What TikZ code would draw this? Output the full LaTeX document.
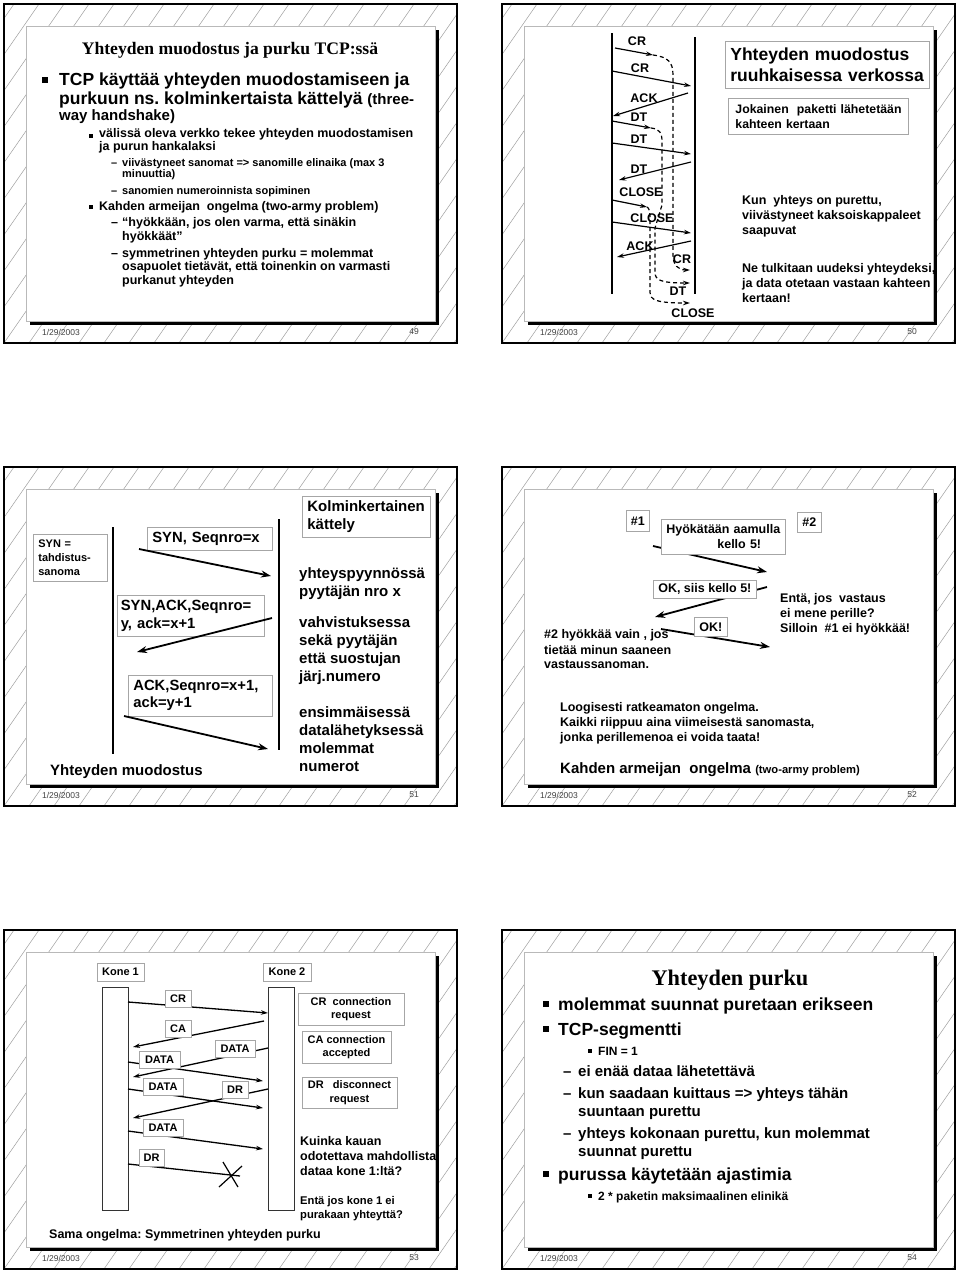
\documentclass[tikz,border=0pt]{standalone}
\usepackage{fontspec}
\setmainfont{Liberation Sans}
\newfontfamily\titlefont{Liberation Serif}
\usetikzlibrary{arrows.meta,positioning}

\newcommand\fsz[1]{\fontsize{#1}{#1}\selectfont}
\newcommand\fsl[2]{\fontsize{#1}{#2}\selectfont}

\tikzset{
  hatch/.style={draw=gray!75, line width=0.5pt},
  frame/.style={draw=black, line width=1.5pt},
  panel/.style={fill=white, draw=gray!55, line width=0.6pt},
  footer/.style={font=\fsz{8.5}, text=black!75, inner sep=0},
  ln/.style={anchor=base west, inner sep=0, font=\bfseries\fsz{12.5}},
  hugeln/.style={ln, font=\bfseries\fsz{17.5}},
  midln/.style={ln, font=\bfseries\fsz{15}},
  smallln/.style={ln, font=\bfseries\fsz{11}},
  titletext/.style={anchor=base, inner sep=0, font=\titlefont\bfseries\fsz{17.6}},
  lab/.style={inner sep=0, font=\bfseries\fsz{12.5}},
  box/.style={draw=gray!70, line width=0.7pt, inner sep=0, font=\bfseries\fsz{12.5}},
  wbox/.style={box, fill=white},
  life/.style={line width=1.3pt},
  bar/.style={draw=black!80, line width=0.8pt},
  msg/.style={line width=1.2pt, -{Stealth[length=7pt,width=4.5pt]}},
  dup/.style={msg, dash pattern=on 4pt off 3pt},
  bigmsg/.style={line width=1.8pt, -{Stealth[length=10pt,width=7pt]}}
}

% frame, hatching, shadowed panel and footer of one slide
\newcommand\slideback[3]{%
  \begin{scope}[shift={(#1,#2)}]
    \begin{scope}
      \clip (0,0) rectangle (453,339);
      \foreach \k in {-10,...,19}
        \draw[hatch] (\k*25,339) -- ++(235,-339);
    \end{scope}
    \draw[frame] (0,0) rectangle (453,339);
    \fill[black] (25.5,25.5) rectangle (434.5,320.5);
    \filldraw[panel] (22,22) rectangle (431,317);
    \node[footer] (date#3) at (57,328) {1/29/2003};
    \node[footer] (page#3) at (410,328) {#3};
  \end{scope}}

\begin{document}
\frenchspacing
\begin{tikzpicture}[x=1pt,y=-1pt]
\useasboundingbox (0,0) rectangle (960,1272);
\fill[white] (0,0) rectangle (960,1272);

%% slide 49
\slideback{4}{4}{49}
\node[titletext] (title49) at (230,54) {Yhteyden muodostus ja purku TCP:ssä};
\fill (42,77) rectangle ++(6,6);
\node[hugeln] (tcp49a) at (59,85) {TCP käyttää yhteyden muodostamiseen ja};
\node[hugeln] (tcp49b) at (59,104) {purkuun ns. kolminkertaista kättelyä {\fsz{15}(three-}};
\node[ln, font=\bfseries\fsz{15}] (tcp49c) at (59,120.5) {way handshake)};
\fill (89,133.5) rectangle ++(4,4);
\node[ln] (net49a) at (99,137.5) {välissä oleva verkko tekee yhteyden muodostamisen};
\node[ln] (net49b) at (99,150.7) {ja purun hankalaksi};
\node[smallln] (dash49a) at (111,166.7) {–};
\node[smallln] (old49a) at (122,166.7) {viivästyneet sanomat => sanomille elinaika (max 3};
\node[smallln] (old49b) at (122,177.3) {minuuttia)};
\node[smallln] (dash49b) at (111,194) {–};
\node[smallln] (num49) at (122,194) {sanomien numeroinnista sopiminen};
\fill (89,204.5) rectangle ++(4,4);
\node[ln] (army49) at (99,210.7) {Kahden armeijan\ \ ongelma (two-army problem)};
\node[ln] (dash49c) at (111,226.7) {–};
\node[ln] (att49a) at (122,226.7) {“hyökkään, jos olen varma, että sinäkin};
\node[ln] (att49b) at (122,240) {hyökkäät”};
\node[ln] (dash49d) at (111,257.3) {–};
\node[ln] (sym49a) at (122,257.3) {symmetrinen yhteyden purku = molemmat};
\node[ln] (sym49b) at (122,270.7) {osapuolet tietävät, että toinenkin on varmasti};
\node[ln] (sym49c) at (122,284) {purkanut yhteyden};

%% slide 50
\slideback{502}{4}{50}
% time lines
\coordinate (a50) at (612,33); \coordinate (b50) at (612,294);
\coordinate (c50) at (695,37); \coordinate (d50) at (695,294);
\draw[life] (a50) -- (b50);
\draw[life] (c50) -- (d50);
% messages
\foreach \xa/\ya/\xb/\yb [count=\i] in {615/48/653/55, 612/71/691/86, 688/93/613/116,
    612/121/651/128, 612/143/691/154, 691/162/619/180, 612/200/647/207,
    612/222/691/233, 691/241/617/257}
{
  \coordinate (s50\i) at (\xa,\ya);
  \coordinate (e50\i) at (\xb,\yb);
  \draw[msg] (s50\i) -- (e50\i);
}
% delayed duplicates
\coordinate (f50a) at (690,270);
\coordinate (f50b) at (690,283);
\coordinate (f50c) at (690,303);
\draw[dup] (e501) .. controls (668,57) and (673,62) .. (673,75) -- (673,255)
  .. controls (673,265) and (678,270) .. (f50a);
\draw[dup] (e504) .. controls (660,129) and (662,133) .. (662,142) -- (662,205) -- (655,228)
  -- (655,272) .. controls (655,280) and (660,283) .. (f50b);
\draw[dup] (e507) .. controls (649,208) and (650,211) .. (650,218) -- (650,292)
  .. controls (650,300) and (656,303) .. (f50c);
\foreach \t/\x/\y [count=\i] in {CR/637/41, CR/640/68, ACK/644/98, DT/639/117, DT/639/139,
    DT/639/169, CLOSE/641/192, CLOSE/652/218, ACK/640/246, CR/682/259, DT/678/291, CLOSE/693/313}
  \node[lab] (lab50\i) at (\x,\y) {\t};
\node[box, anchor=north west, minimum height=47, text width=194, inner xsep=5, align=left,
  font=\bfseries\fsl{17.5}{21}] (head50) at (725,41) {Yhteyden muodostus\\ruuhkaisessa verkossa};
\node[box, anchor=north west, minimum height=36, text width=174, inner xsep=3, align=left,
  font=\bfseries\fsl{12.3}{15}] (note50) at (728,98) {\ Jokainen\ \ paketti lähetetään\\\ kahteen kertaan};
\foreach \t/\y [count=\i] in {{Kun\ \ yhteys on purettu,}/204, {viivästyneet kaksoiskappaleet}/219,
    {saapuvat}/234, {Ne tulkitaan uudeksi yhteydeksi,}/272, {ja data otetaan vastaan kahteen}/287,
    {kertaan!}/302}
  \node[ln] (txt50\i) at (742,\y) {\t};

%% slide 51
\slideback{4}{467}{51}
\coordinate (a51) at (113,527); \coordinate (b51) at (113,754);
\coordinate (c51) at (279,519); \coordinate (d51) at (279,750);
\draw[life, line width=1.5pt] (a51) -- (b51);
\draw[life, line width=1.5pt] (c51) -- (d51);
\node[box, anchor=north west, minimum height=47, text width=64, inner xsep=5, align=left,
  font=\bfseries\fsl{11}{14}] (syn51) at (33,534) {SYN =\\tahdistus-\\sanoma};
\node[box, anchor=north west, minimum height=23, text width=115, inner xsep=5, align=left,
  font=\bfseries\fsz{14.8}] (m51a) at (147,527) {SYN, Seqnro=x};
\node[box, anchor=north west, minimum height=41, text width=140, inner xsep=3.5, align=left,
  font=\bfseries\fsl{14.8}{18}] (m51b) at (117,595) {SYN,ACK,Seqnro=\\y, ack=x+1};
\node[box, anchor=north west, minimum height=41, text width=134, inner xsep=5, align=left,
  font=\bfseries\fsl{14.8}{17}] (m51c) at (128,675) {ACK,Seqnro=x+1,\\ack=y+1};
\node[box, anchor=north west, minimum height=41, text width=118, inner xsep=5, align=left,
  font=\bfseries\fsl{15}{18}] (head51) at (302,496) {Kolminkertainen\\kättely};
\foreach \xa/\ya/\xb/\yb [count=\i] in {139/549/271/576, 272/618/137/652, 124/716/268/749}
{
  \coordinate (s51\i) at (\xa,\ya);
  \coordinate (e51\i) at (\xb,\yb);
  \draw[bigmsg] (s51\i) -- (e51\i);
}
\foreach \t/\y [count=\i] in {yhteyspyynnössä/578, pyytäjän nro x/596, vahvistuksessa/627,
    sekä pyytäjän/645, että suostujan/663, järj.numero/681, ensimmäisessä/717,
    datalähetyksessä/735, molemmat/753, numerot/771}
  \node[midln] (txt51\i) at (299,\y) {\t};
\node[midln] (foot51) at (50,775) {Yhteyden muodostus};

%% slide 52
\slideback{502}{467}{52}
\foreach \xa/\ya/\xb/\yb [count=\i] in {653/546/767/572, 767/587/655/617, 661/629/770/647}
{
  \coordinate (s52\i) at (\xa,\ya);
  \coordinate (e52\i) at (\xb,\yb);
  \draw[bigmsg] (s52\i) -- (e52\i);
}
\node[wbox, anchor=north west, minimum width=23, minimum height=21] (one52) at (626,510) {\#1};
\node[wbox, anchor=north west, minimum width=24, minimum height=20] (two52) at (797,512) {\#2};
\node[wbox, anchor=north west, minimum height=35, text width=114, inner xsep=5, align=left,
  font=\bfseries\fsl{12.5}{15}] (att52) at (661,519) {Hyökätään aamulla\\\hspace*{51pt}kello 5!};
\node[wbox, anchor=north west, minimum width=103, minimum height=18] (ok52a) at (653,580) {OK, siis kello 5!};
\node[wbox, anchor=north west, minimum width=33, minimum height=19] (ok52b) at (694,617) {OK!};
\foreach \t/\y [count=\i] in {{\#2 hyökkää vain , jos}/638, {tietää minun saaneen}/654,
    {vastaussanoman.}/668}
  \node[ln] (lft52\i) at (544,\y) {\t};
\foreach \t/\y [count=\i] in {{Entä, jos\ \ vastaus}/602, {ei mene perille?}/617,
    {Silloin\ \ \#1 ei hyökkää!}/632}
  \node[ln] (rgt52\i) at (780,\y) {\t};
\foreach \t/\y [count=\i] in {{Loogisesti ratkeamaton ongelma.}/711,
    {Kaikki riippuu aina viimeisestä sanomasta,}/726, {jonka perillemenoa ei voida taata!}/741}
  \node[ln] (log52\i) at (560,\y) {\t};
\node[midln] (army52) at (560,773) {Kahden armeijan\ \ ongelma {\fsz{11.2}(two-army problem)}};

%% slide 53
\slideback{4}{930}{53}
\draw[bar] (102,987) rectangle (128,1210);
\draw[bar] (268,987) rectangle (294,1210);
\node[box, minimum width=47, minimum height=18, font=\bfseries\fsz{11}] (kone1) at (120.5,972) {Kone 1};
\node[box, minimum width=48, minimum height=18, font=\bfseries\fsz{11}] (kone2) at (287,972) {Kone 2};
\foreach \xa/\ya/\xb/\yb [count=\i] in {128/1002/268/1013, 264/1021/133/1047, 268/1048/133/1077,
    128/1062/263/1081, 128/1089/263/1108, 268/1089/133/1118, 128/1131/263/1149}
{
  \coordinate (s53\i) at (\xa,\ya);
  \coordinate (e53\i) at (\xb,\yb);
  \draw[msg, line width=1.3pt] (s53\i) -- (e53\i);
}
% lost disconnect request
\coordinate (s53x) at (128,1164);
\coordinate (e53x) at (240,1176);
\draw[line width=1.3pt] (s53x) -- (e53x);
\draw[line width=1.2pt] (223,1162) -- (238,1187);
\draw[line width=1.2pt] (219,1187) -- (242,1166);
\foreach \t/\x/\y/\w [count=\i] in {CR/178/998.5/26, CA/178/1029/26, DATA/235/1048.5/40,
    DATA/159.5/1060/41, DATA/163/1086.5/40, DR/235/1090/26, DATA/163/1127.5/40, DR/151.5/1158/25}
  \node[wbox, minimum width=\w, minimum height=17, font=\bfseries\fsz{11}] (lab53\i) at (\x,\y) {\t};
\node[box, minimum width=106, minimum height=32, align=center, font=\bfseries\fsl{11}{13.5}]
  (cr53) at (351,1009) {CR\ \ connection\\request};
\node[box, minimum width=89, minimum height=32, align=center, font=\bfseries\fsl{11}{13.5}]
  (ca53) at (346.5,1047) {CA connection\\accepted};
\node[box, minimum width=95, minimum height=31, align=center, font=\bfseries\fsl{11}{13.5}]
  (dr53) at (349.5,1092.5) {DR\ \ \ disconnect\\request};
\foreach \t/\y [count=\i] in {{Kuinka kauan}/1145, {odotettava mahdollista}/1160,
    {dataa kone 1:ltä?}/1175}
  \node[ln] (ask53\i) at (300,\y) {\t};
\node[ln, font=\bfseries\fsz{11.2}] (ifa53) at (300,1204) {Entä jos kone 1 ei};
\node[ln, font=\bfseries\fsz{11.2}] (ifb53) at (300,1218) {purakaan yhteyttä?};
\node[ln] (foot53) at (49,1238) {Sama ongelma: Symmetrinen yhteyden purku};

%% slide 54
\slideback{502}{930}{54}
\node[titletext, font=\titlefont\bfseries\fsz{22.3}] (title54) at (730,985) {Yhteyden purku};
\fill (543,1001) rectangle ++(6,6);
\node[hugeln] (b54a) at (558,1010) {molemmat suunnat puretaan erikseen};
\fill (543,1026) rectangle ++(6,6);
\node[hugeln] (b54b) at (558,1035) {TCP-segmentti};
\fill (588,1049) rectangle ++(4,4);
\node[ln, font=\bfseries\fsz{12}] (b54c) at (598,1055) {FIN = 1};
\foreach \t/\y [count=\i] in {{ei enää dataa lähetettävä}/1076,
    {kun saadaan kuittaus => yhteys tähän}/1098, {yhteys kokonaan purettu, kun molemmat}/1138}
  \node[midln] (dash54\i) at (563,\y) {–};
\foreach \t/\y [count=\i] in {{ei enää dataa lähetettävä}/1076,
    {kun saadaan kuittaus => yhteys tähän}/1098, {suuntaan purettu}/1116,
    {yhteys kokonaan purettu, kun molemmat}/1138, {suunnat purettu}/1156}
  \node[midln] (txt54\i) at (578,\y) {\t};
\fill (543,1171) rectangle ++(6,6);
\node[hugeln] (b54d) at (558,1180) {purussa käytetään ajastimia};
\fill (588,1194) rectangle ++(4,4);
\node[ln, font=\bfseries\fsz{12}] (b54e) at (598,1200) {2 * paketin maksimaalinen elinikä};
\end{tikzpicture}
\end{document}
